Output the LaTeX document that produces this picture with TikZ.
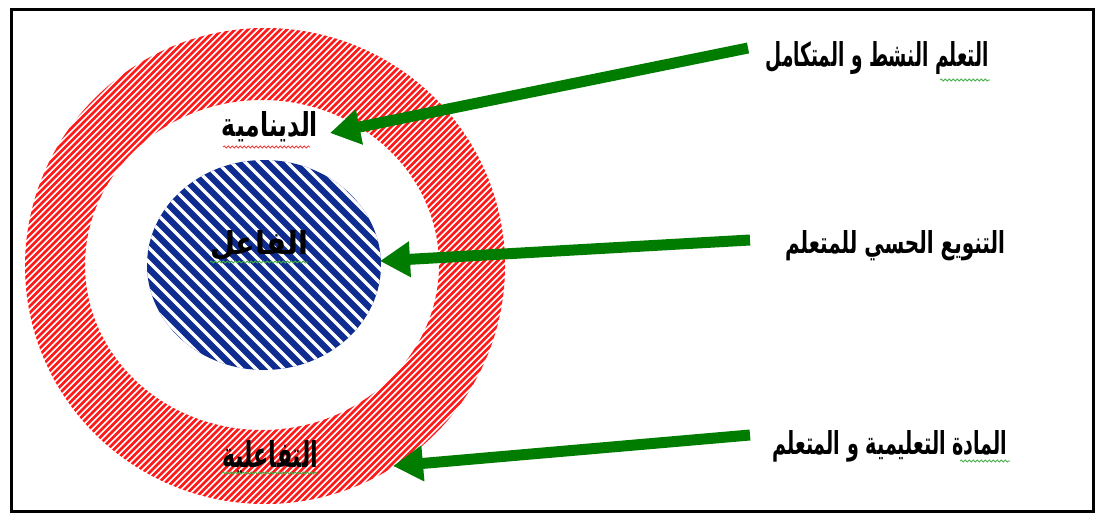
\documentclass[tikz,border=0pt]{standalone}
\usepackage{fontspec}
\usepackage{graphicx}
\usetikzlibrary{arrows.meta,decorations.pathmorphing}
\TeXXeTstate=1
\newfontfamily\arabicfont[Script=Arabic]{DejaVu Sans}
\definecolor{ringred}{RGB}{255,25,25}
\definecolor{coreblue}{RGB}{15,45,145}
\definecolor{arrowgreen}{RGB}{0,125,0}
\definecolor{spellgreen}{RGB}{70,175,70}
\definecolor{spellred}{RGB}{240,60,60}
% bold Arabic text fitted to a given width and height
\newcommand{\arword}[3]{\resizebox{#1}{#2}{\arabicfont\bfseries #3}}
\tikzset{
  arlabel/.style={inner sep=0pt},
  pointer/.style={draw=arrowgreen, line width=11pt, -{Triangle[length=30pt,width=34pt]}},
  squiggle/.style={line width=0.8pt, decorate,
    decoration={snake, amplitude=1.1pt, segment length=4pt}},
  frame/.style={draw=black, line width=3pt}
}
\begin{document}
\begin{tikzpicture}[x=1pt,y=-1pt]
\useasboundingbox (0,0) rectangle (1099,516);
\fill[white] (0,0) rectangle (1099,516);

% outer frame
\draw[frame] (11,10) rectangle (1093,511);

% red hatched ring
\begin{scope}[even odd rule]
  \clip (265,266) ellipse [x radius=240pt, y radius=238pt]
        (262,265) ellipse [x radius=177pt, y radius=165pt];
  \foreach \i in {-60,...,60}
    \draw[ringred, line width=2.7pt] (265+\i*6.5-320, 586) -- ++(640,-640);
\end{scope}

% blue hatched core
\begin{scope}
  \clip (264,265) ellipse [x radius=117pt, y radius=105pt];
  \fill[coreblue] (140,150) rectangle (390,380);
  \foreach \i in {-14,...,14}
    \draw[white, line width=3.2pt] (264+\i*14-200, 65) -- ++(400,400);
\end{scope}

% labels inside the circles
\node[arlabel] (dyn)   at (270,127) {\arword{96pt}{25pt}{\beginR الدينامية\endR}};
\node[arlabel] (actor) at (259,245) {\arword{98pt}{24pt}{\beginR الفاعل\endR}};
\node[arlabel] (inter) at (270,457) {\arword{96pt}{27pt}{\beginR التفاعلية\endR}};

% labels on the right
\node[arlabel] (active)  at (877,58)  {\arword{223pt}{25pt}{\beginR التعلم النشط و المتكامل\endR}};
\node[arlabel] (sensory) at (895,246) {\arword{220pt}{23pt}{\beginR التنويع الحسي  للمتعلم\endR}};
\node[arlabel] (subject) at (890,446) {\arword{235pt}{24pt}{\beginR المادة التعليمية و المتعلم\endR}};

% spelling marks
\draw[squiggle, spellred]   (223,147) -- (310,147);
\draw[squiggle, spellgreen] (210,262) -- (308,262);
\draw[squiggle, spellgreen] (222,473) -- (317,473);
\draw[squiggle, spellgreen] (940,80)  -- (990,80);
\draw[squiggle, spellgreen] (960,461) -- (1010,461);

% arrow ends
\coordinate (t1) at (748,48);
\coordinate (h1) at (330,133);
\coordinate (t2) at (750,240);
\coordinate (h2) at (380,261);
\coordinate (t3) at (750,435);
\coordinate (h3) at (393,466);

\draw[pointer] (t1) -- (h1);
\draw[pointer] (t2) -- (h2);
\draw[pointer] (t3) -- (h3);
\end{tikzpicture}
\end{document}
